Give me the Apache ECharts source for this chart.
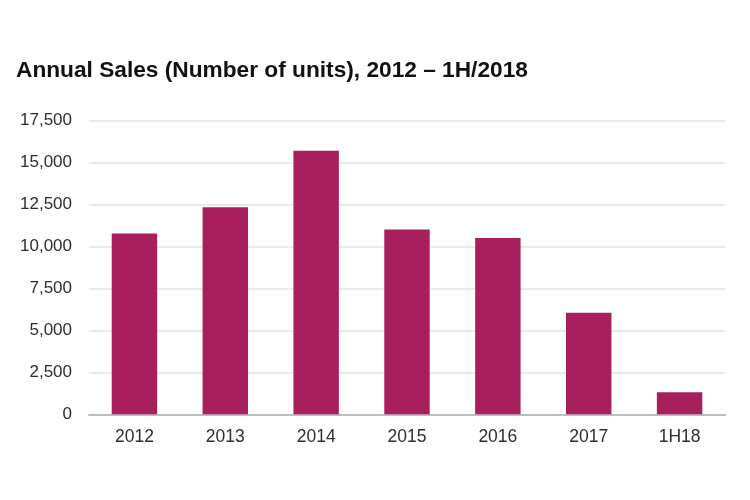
<!DOCTYPE html>
<html>
<head>
<meta charset="utf-8">
<script src="https://cdn.jsdelivr.net/npm/echarts@6/dist/echarts.min.js"></script>
<style>html,body{margin:0;padding:0;background:#fff}#c{width:750px;height:500px}</style>
</head>
<body>
<div id="c"></div>
<script>
const categories = ['2012', '2013', '2014', '2015', '2016', '2017', '1H18'];
const salesUnits = [10770, 12340, 15710, 11010, 10510, 6050, 1310];
const yTicks = [0, 2500, 5000, 7500, 10000, 12500, 15000, 17500];
const titleText = 'Annual Sales (Number of units), 2012 \u2013 1H/2018';

const chart = echarts.init(document.getElementById('c'), null, {renderer: 'canvas'});
chart.setOption({
  animation: false,
  backgroundColor: '#ffffff',
  title: {
    text: titleText,
    left: 11,
    top: 54,
    textStyle: {fontFamily: 'Liberation Sans, Arial, sans-serif', fontSize: 22.7, fontWeight: 'bold', color: '#111111'}
  },
  grid: {left: 89, right: 25, top: 120.7, bottom: 85.7, containLabel: false},
  xAxis: {
    type: 'category',
    data: categories,
    axisLine: {show: true, lineStyle: {color: '#bdbdbd', width: 2}},
    axisTick: {show: false},
    axisLabel: {fontFamily: 'Liberation Sans, Arial, sans-serif', fontSize: 17.5, color: '#2e2e2e', margin: 14}
  },
  yAxis: {
    type: 'value',
    min: yTicks[0],
    max: yTicks[yTicks.length - 1],
    interval: 2500,
    axisLine: {show: false},
    axisTick: {show: false},
    splitLine: {lineStyle: {color: '#e3e3e3', width: 1.5}},
    axisLabel: {
      fontFamily: 'Liberation Sans, Arial, sans-serif', fontSize: 17, color: '#2e2e2e', margin: 17,
      formatter: v => v.toLocaleString('en-US')
    }
  },
  series: [{
    type: 'bar',
    data: salesUnits,
    barWidth: '50%',
    itemStyle: {color: '#A71F5D'}
  }]
});
</script>
</body>
</html>
